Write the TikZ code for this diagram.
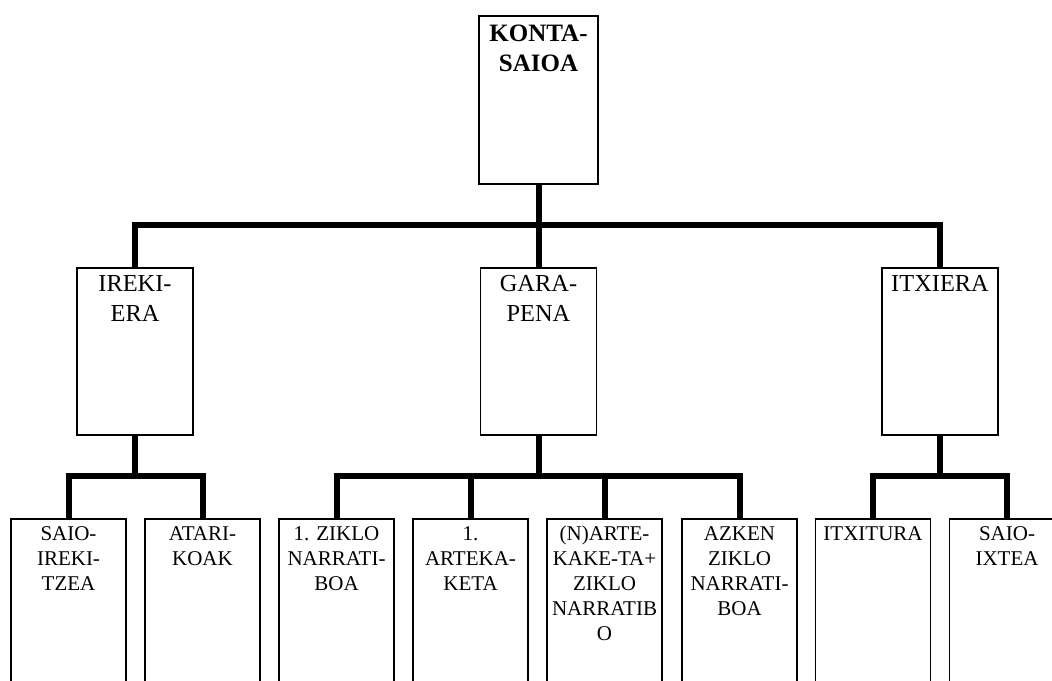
\documentclass[tikz,border=0pt]{standalone}
\usepackage{fontspec}
\setmainfont{Liberation Serif}
\usetikzlibrary{positioning}

\begin{document}
\begin{tikzpicture}[
    x=0.5pt, y=-0.5pt,
    link/.style={line width=3pt}, % lodi konektoreak
    rootBox/.style={draw, line width=0.9pt, anchor=north, inner sep=0pt, minimum width=59.5pt, minimum height=84pt},
    midBox/.style={draw, line width=0.9pt, anchor=north, inner sep=0pt, minimum width=58pt, minimum height=83.5pt},
    leafBox/.style={draw, line width=0.9pt, anchor=north, inner sep=0pt, minimum width=57.5pt, minimum height=101pt},
    rootText/.style={font=\fontsize{12.5}{15}\selectfont\bfseries, align=center, inner sep=0pt},
    midText/.style={font=\fontsize{12.2}{15}\selectfont, align=center, inner sep=0pt},
    leafText/.style={font=\fontsize{10.5}{12.5}\selectfont, align=center, inner sep=0pt},
]
    \useasboundingbox (0,0) rectangle (1052,680);
    \clip (0,0) rectangle (1052,680);

    % 1. goiko kutxa
    \node[rootBox] (konta) at (538.5,15) {};
    \node[rootText, below=5pt of konta.north] (kontaT) {KONTA-\\SAIOA};

    % 2. erdiko hiru kutxak
    \node[midBox] (irekiera) at (135,267) {};
    \node[midBox] (garapena) at (538.5,267) {};
    \node[midBox] (itxiera) at (940,267) {};
    \node[midText, below=4pt of irekiera.north] (irekieraT) {IREKI-\\ERA};
    \node[midText, below=4pt of garapena.north] (garapenaT) {GARA-\\PENA};
    \node[midText, below=4pt of itxiera.north] (itxieraT) {ITXIERA};

    % 3. beheko kutxak
    \node[leafBox] (saioIrek) at (68.5,518) {};
    \node[leafBox] (atariko) at (202.5,518) {};
    \node[leafBox] (ziklo1) at (336.5,518) {};
    \node[leafBox] (arteka1) at (470.5,518) {};
    \node[leafBox] (nArte) at (604.5,518) {};
    \node[leafBox] (azken) at (739.5,518) {};
    \node[leafBox] (itxitura) at (873,518) {};
    \node[leafBox] (saioIxte) at (1007,518) {};
    \node[leafText, below=4pt of saioIrek.north] (saioIrekT) {SAIO-\\IREKI-\\TZEA};
    \node[leafText, below=4pt of atariko.north] (atarikoT) {ATARI-\\KOAK};
    \node[leafText, below=4pt of ziklo1.north] (ziklo1T) {1. ZIKLO\\NARRATI-\\BOA};
    \node[leafText, below=4pt of arteka1.north] (arteka1T) {1.\\ARTEKA-\\KETA};
    \node[leafText, below=4pt of nArte.north] (nArteT) {(N)ARTE-\\KAKE-TA+\\ZIKLO\\NARRATIB\\O};
    \node[leafText, below=4pt of azken.north] (azkenT) {AZKEN\\ZIKLO\\NARRATI-\\BOA};
    \node[leafText, below=4pt of itxitura.north] (itxituraT) {ITXITURA};
    \node[leafText, below=4pt of saioIxte.north] (saioIxteT) {SAIO-\\IXTEA};

    % 4. konektoreak
    \coordinate (rootJoin) at (538.5,225);
    \draw[link] (konta.south) -- (rootJoin);
    \draw[link] (irekiera.north) |- (rootJoin) -| (itxiera.north);
    \draw[link] (rootJoin) -- (garapena.north);

    \coordinate (irekJoin) at (135,476);
    \draw[link] (irekiera.south) -- (irekJoin);
    \draw[link] (saioIrek.north) |- (irekJoin) -| (atariko.north);

    \coordinate (garJoin) at (538.5,476);
    \draw[link] (garapena.south) -- (garJoin);
    \draw[link] (ziklo1.north) |- (garJoin) -| (azken.north);
    \draw[link] (arteka1.north) -- (arteka1.north |- garJoin);
    \draw[link] (nArte.north) -- (nArte.north |- garJoin);

    \coordinate (itxJoin) at (940,476);
    \draw[link] (itxiera.south) -- (itxJoin);
    \draw[link] (itxitura.north) |- (itxJoin) -| (saioIxte.north);
\end{tikzpicture}
\end{document}
